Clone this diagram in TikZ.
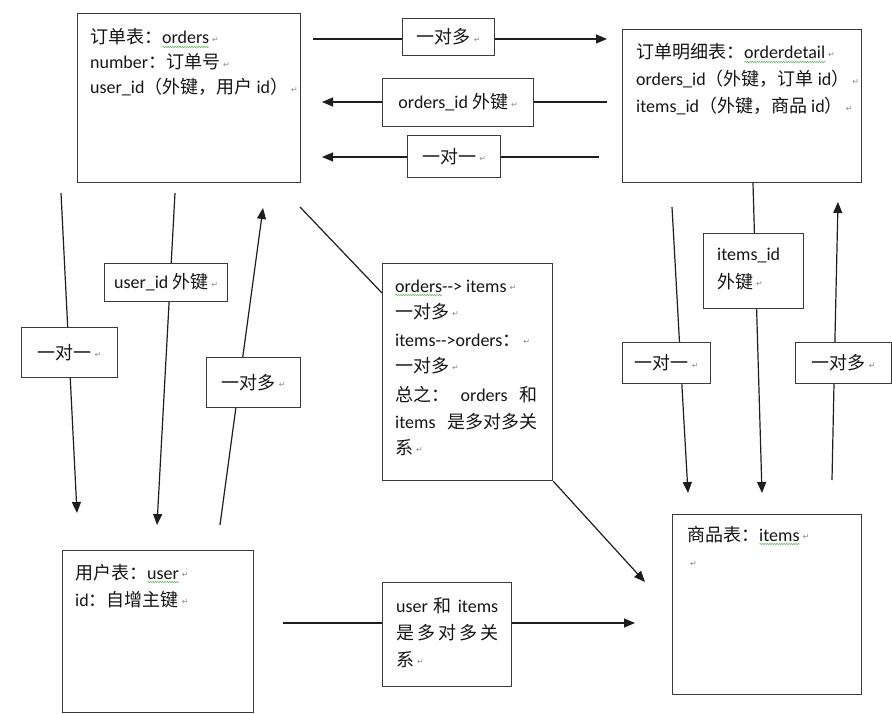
\documentclass[tikz,border=0pt]{standalone}
\usepackage{fontspec}
\setmainfont{Carlito}
\newfontfamily\cjkfont{Noto Sans CJK SC}
\newfontfamily\symfont{DejaVu Sans}
\usetikzlibrary{arrows.meta,calc,decorations.pathmorphing}
\definecolor{boxc}{HTML}{3A3A3A}
\definecolor{linec}{HTML}{1E1E1E}
\definecolor{txtc}{HTML}{151515}
\definecolor{pmc}{HTML}{8A8A8A}
\definecolor{sqc}{HTML}{5DB35D}
\newcommand\C[1]{{\cjkfont #1}}
\newcommand\parmark{\,\raisebox{1.5pt}{\symfont\fontsize{8}{8}\selectfont\textcolor{pmc}{↵}}}
\newlength\sqlen
\newcommand\sq[1]{\settowidth\sqlen{#1}\rlap{\tikz[baseline=0pt]\draw[sqc,line width=0.5pt,decorate,decoration={snake,amplitude=0.7pt,segment length=2.4pt}] (0pt,-3pt) -- (\sqlen,-3pt);}#1}
\begin{document}
\begin{tikzpicture}[x=1pt,y=-1pt,
  tbl/.style={draw=boxc, line width=1.2pt, fill=white, inner sep=0pt, anchor=north west},
  lbl/.style={draw=boxc, line width=1.2pt, fill=white, inner sep=0pt, anchor=north west, align=center, text=txtc, font=\fontsize{18}{22}\selectfont},
  txt/.style={inner sep=0pt, anchor=base west, text=txtc, font=\fontsize{18}{26}\selectfont},
  conn/.style={draw=linec, line width=1.2pt},
  arr/.style={conn, -{Triangle[length=11pt,width=9pt]}},
]
\fill[white] (0,0) rectangle (892,714);
\useasboundingbox (0,0) rectangle (892,714);

% tables
\node[tbl, minimum width=223, minimum height=169] (ord) at (77,13) {};
\node[tbl, minimum width=239, minimum height=153] (od) at (622,29) {};
\node[tbl, minimum width=191, minimum height=162] (usr) at (62,550) {};
\node[tbl, minimum width=189, minimum height=180] (itm) at (672,514) {};
\node[tbl, minimum width=170, minimum height=217] (mid) at (382,263) {};
\node[tbl, minimum width=129, minimum height=104] (bm) at (382,582) {};
\node[tbl, minimum width=100, minimum height=75] (r2) at (703,233) {};

% table texts
\node[txt] (ord1) at (90,44) {\C{订单表：}\sq{orders}\parmark};
\node[txt] (ord2) at (90,69) {number\C{：订单号}\parmark};
\node[txt] (ord3) at (90,94) {user\_id\C{（外键，用户} id\C{）}\parmark};

\node[txt] (od1) at (636,59) {\C{订单明细表：}\sq{orderdetail}\parmark};
\node[txt] (od2) at (636,86) {orders\_id\C{（外键，订单} id\C{）}\parmark};
\node[txt] (od3) at (636,113) {items\_id\C{（外键，商品} id\C{）}\parmark};

\node[txt] (usr1) at (75,579) {\C{用户表：}\sq{user}\parmark};
\node[txt] (usr2) at (75,606) {id\C{：自增主键}\parmark};

\node[txt] (itm1) at (687,541) {\C{商品表：}\sq{items}\parmark};
\node[txt] (itm2) at (687,568) {\parmark};

\node[txt] (mid1) at (395,292) {\sq{orders}-{}-> items\parmark};
\node[txt] (mid2) at (395,318) {\C{一对多}\parmark};
\node[txt] (mid3) at (395,346) {items-{}->orders\C{：}\parmark};
\node[txt] (mid4) at (395,372) {\C{一对多}\parmark};
\node[txt] (mid5) at (395,401) {\makebox[142pt][s]{\C{总之：} orders \C{和}}};
\node[txt] (mid6) at (395,428) {\makebox[142pt][l]{items\hfill\C{是多对多关}}};
\node[txt] (mid7) at (395,454) {\C{系}\parmark};

\node[txt] (bm1) at (396,612) {\makebox[102pt][s]{user \C{和} items}};
\node[txt] (bm2) at (396,639) {\makebox[102pt][l]{\C{是\hfill 多\hfill 对\hfill 多\hfill 关}}};
\node[txt] (bm3) at (396,666) {\C{系}\parmark};

\node[txt] (r2a) at (717,261) {items\_id};
\node[txt] (r2b) at (717,288) {\C{外键}\parmark};

% label boxes
\node[lbl, minimum width=92, minimum height=37] (t1) at (402,18) {\C{一对多}\parmark};
\node[lbl, minimum width=151, minimum height=48] (t2) at (382,78) {orders\_id \C{外键}\parmark};
\node[lbl, minimum width=93, minimum height=42] (t3) at (407,135) {\C{一对一}\parmark};
\node[lbl, minimum width=96, minimum height=50] (l1) at (21,327) {\C{一对一}\parmark};
\node[lbl, minimum width=123, minimum height=38] (l2) at (104,263) {user\_id \C{外键}\parmark};
\node[lbl, minimum width=94, minimum height=50] (l3) at (206,357) {\C{一对多}\parmark};
\node[lbl, minimum width=88, minimum height=41] (r1) at (622,342) {\C{一对一}\parmark};
\node[lbl, minimum width=96, minimum height=41] (r3) at (795,342) {\C{一对多}\parmark};

% coordinates
\coordinate (t1s) at (313,39);  \coordinate (t1e) at (607,39);
\coordinate (t2s) at (607,102); \coordinate (t2e) at (322,102);
\coordinate (t3s) at (599,157); \coordinate (t3e) at (322,157);
\coordinate (l1s) at (61,193);  \coordinate (l1e) at (77,513);
\coordinate (l2s) at (175,193); \coordinate (l2e) at (157,525);
\coordinate (l3s) at (220,525); \coordinate (l3e) at (263,208);
\coordinate (r1s) at (672,207); \coordinate (r1e) at (688,493);
\coordinate (r2s) at ($(od.south west)+(131,0)$); \coordinate (r2e) at (762,493);
\coordinate (r3s) at (832,480); \coordinate (r3e) at (838,202);
\coordinate (d1s) at (300,207); \coordinate (d1e) at ($(mid.north west)+(0,30)$);
\coordinate (d2e) at (645,582);
\coordinate (bs) at (283,623);  \coordinate (be) at (635,623);

% horizontal connectors
\draw[conn] (t1s) -- (t1.west |- t1s);
\draw[arr] (t1.east |- t1s) -- (t1e);
\draw[conn] (t2s) -- (t2.east |- t2s);
\draw[arr] (t2.west |- t2s) -- (t2e);
\draw[conn] (t3s) -- (t3.east |- t3s);
\draw[arr] (t3.west |- t3s) -- (t3e);
\draw[conn] (bs) -- (bm.west |- bs);
\draw[arr] (bm.east |- bs) -- (be);

% vertical connectors
\draw[conn] (l1s) -- (intersection of l1s--l1e and l1.north west--l1.north east);
\draw[arr] (intersection of l1s--l1e and l1.south west--l1.south east) -- (l1e);
\draw[conn] (l2s) -- (intersection of l2s--l2e and l2.north west--l2.north east);
\draw[arr] (intersection of l2s--l2e and l2.south west--l2.south east) -- (l2e);
\draw[conn] (l3s) -- (intersection of l3s--l3e and l3.south west--l3.south east);
\draw[arr] (intersection of l3s--l3e and l3.north west--l3.north east) -- (l3e);
\draw[conn] (r1s) -- (intersection of r1s--r1e and r1.north west--r1.north east);
\draw[arr] (intersection of r1s--r1e and r1.south west--r1.south east) -- (r1e);
\draw[conn] (r2s) -- (intersection of r2s--r2e and r2.north west--r2.north east);
\draw[arr] (intersection of r2s--r2e and r2.south west--r2.south east) -- (r2e);
\draw[conn] (r3s) -- (intersection of r3s--r3e and r3.south west--r3.south east);
\draw[arr] (intersection of r3s--r3e and r3.north west--r3.north east) -- (r3e);

% diagonal connectors
\draw[conn] (d1s) -- (d1e);
\draw[arr] (mid.south east) -- (d2e);
\end{tikzpicture}
\end{document}
